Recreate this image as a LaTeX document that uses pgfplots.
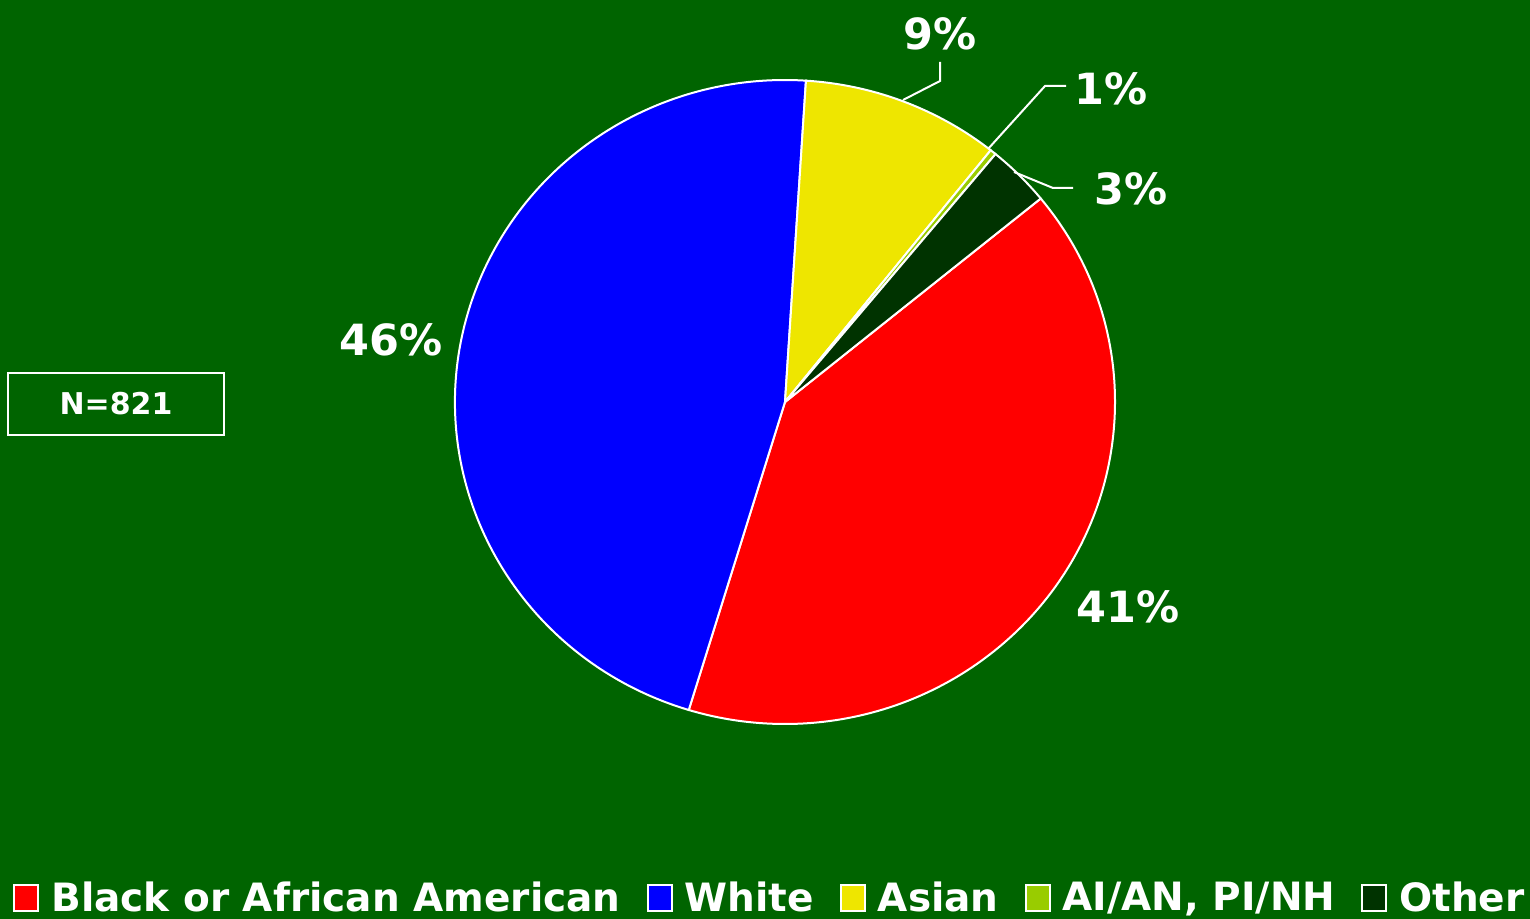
\documentclass[border=0pt]{standalone}
\usepackage{pgfplots}
\usepackage{pgfplotstable}
\pgfplotsset{compat=1.18}
\usepackage{fontspec}
\setmainfont{DejaVu Sans}

\definecolor{bg}{HTML}{006400}
\definecolor{pie0}{HTML}{FF0000}
\definecolor{pie1}{HTML}{0000FF}
\definecolor{pie2}{HTML}{EEE600}
\definecolor{pie3}{HTML}{99CC00}
\definecolor{pie4}{HTML}{003300}

% share of each group, percent (order as in legend)
\pgfplotstableread{
pct
40.6
46.3
9.7
0.3
3.1
}\piedata

% slice angles, clockwise from the first slice
\pgfmathsetmacro\angcur{39.2}
\foreach \i in {0,...,4}{%
  \pgfplotstablegetelem{\i}{pct}\of\piedata
  \pgfmathsetmacro\tmpend{\angcur-3.6*\pgfplotsretval}%
  \expandafter\xdef\csname sa\i\endcsname{\angcur}%
  \expandafter\xdef\csname ea\i\endcsname{\tmpend}%
  \xdef\angcur{\tmpend}%
}

\begin{document}
\begin{tikzpicture}
\begin{axis}[
    width=765pt, height=459.5pt, scale only axis,
    xmin=0, xmax=1530, ymin=0, ymax=919, y dir=reverse,
    hide axis, clip=false,
    legend columns=5,
    legend image code/.code={\draw[#1, draw=white, line width=1pt] (0pt,-6.5pt) rectangle (12pt,6.5pt);},
    legend style={at={(axis cs:771,898)}, anchor=center, draw=none, fill=none,
        text=white, inner sep=0pt, font=\fontsize{19.5}{23}\selectfont\bfseries,
        /tikz/every odd column/.append style={column sep=4pt},
        /tikz/every even column/.append style={column sep=11pt}},
  ]
  \fill[bg] (axis cs:0,0) rectangle (axis cs:1530,919);

  \pgfplotsinvokeforeach{0,...,4}{%
    \edef\temp{\noexpand\fill[pie#1, draw=white, line width=1pt] (axis cs:785,402) -- ++(\csname sa#1\endcsname:165pt and 161pt) arc[start angle=\csname sa#1\endcsname, end angle=\csname ea#1\endcsname, x radius=165pt, y radius=161pt] -- cycle;}\temp
  }

  % leader lines
  \draw[white, line width=1pt] (axis cs:940,62) -- (axis cs:940,81) -- (axis cs:903,100);
  \draw[white, line width=1pt] (axis cs:1066,86) -- (axis cs:1045,86) -- (axis cs:988,149);
  \draw[white, line width=1pt] (axis cs:1073,188) -- (axis cs:1053,188) -- (axis cs:1014,172);

  \begin{scope}[every node/.style={text=white, font=\fontsize{21.5}{25}\selectfont\bfseries}]
    \node at (axis cs:940,34) {9\%};
    \node at (axis cs:1111,89) {1\%};
    \node at (axis cs:1131,189) {3\%};
    \node at (axis cs:391,340) {46\%};
    \node at (axis cs:1128,607) {41\%};
  \end{scope}

  \node[draw=white, line width=1pt, minimum width=108pt, minimum height=31pt,
        text=white, font=\fontsize{15}{18}\selectfont\bfseries] at (axis cs:116,404) {N=821};

  \addlegendimage{fill=pie0}\addlegendentry{Black or African American}
  \addlegendimage{fill=pie1}\addlegendentry{White}
  \addlegendimage{fill=pie2}\addlegendentry{Asian}
  \addlegendimage{fill=pie3}\addlegendentry{AI/AN, PI/NH}
  \addlegendimage{fill=pie4}\addlegendentry{Other}
\end{axis}
\end{tikzpicture}
\end{document}
